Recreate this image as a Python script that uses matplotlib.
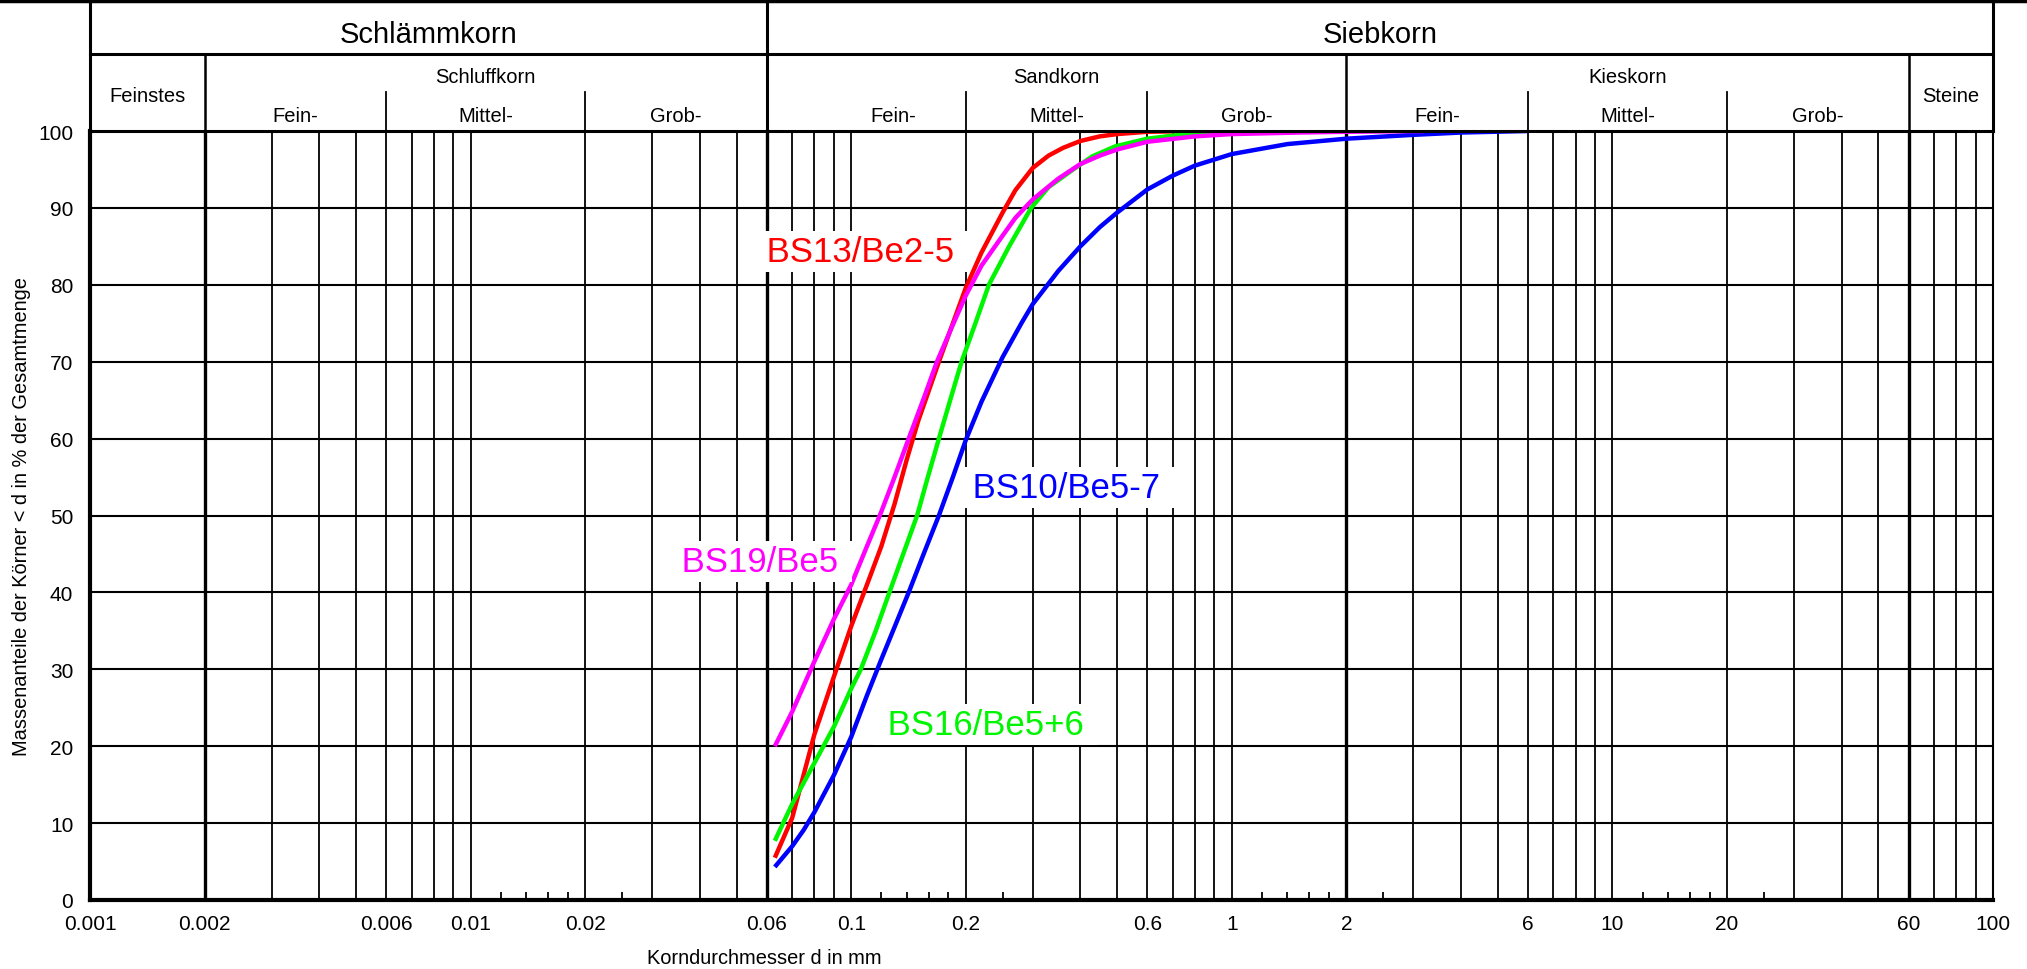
import matplotlib
matplotlib.use('Agg')
import matplotlib.pyplot as plt
from matplotlib.lines import Line2D
from matplotlib.ticker import NullFormatter

plt.rcParams['font.family'] = ['Liberation Sans', 'DejaVu Sans']

# ---------------- data (grain size d in mm, passing in %) ----------------
bs13_d = [0.063, 0.07, 0.08, 0.09, 0.1, 0.11, 0.12, 0.13, 0.14, 0.15, 0.17, 0.185, 0.2, 0.22, 0.25,
          0.27, 0.3, 0.33, 0.36, 0.4, 0.45, 0.5, 0.6, 0.8, 2.0]
bs13_p = [5.5, 10.7, 21.5, 29, 35.6, 41, 46, 51.5, 57.3, 62.3, 70, 75, 79.6, 84.2, 89.4,
          92.3, 95.2, 96.8, 97.8, 98.7, 99.3, 99.6, 99.9, 100, 100]

bs19_d = [0.063, 0.07, 0.08, 0.09, 0.1, 0.11, 0.12, 0.13, 0.1416, 0.155, 0.168, 0.185, 0.2, 0.22, 0.25,
          0.27, 0.3, 0.35, 0.4, 0.45, 0.5, 0.6, 0.8, 1.0, 1.5, 2.0, 3.2]
bs19_p = [20, 24.5, 31, 36.5, 41, 46, 50.5, 55, 60, 65.2, 70, 74.8, 78.6, 82.5, 86.4,
          88.7, 91.1, 93.8, 95.7, 96.8, 97.6, 98.6, 99.3, 99.6, 99.8, 99.9, 100]

bs16_d = [0.063, 0.07, 0.08, 0.09, 0.1, 0.106, 0.116, 0.126, 0.137, 0.149, 0.159, 0.17, 0.182, 0.195, 0.212,
          0.23, 0.26, 0.297, 0.33, 0.383, 0.43, 0.494, 0.6, 0.73, 1.0, 1.2, 2.0]
bs16_p = [7.7, 12.5, 17.8, 22.5, 27.5, 30, 35, 40, 45, 50, 55, 60, 65, 70, 75,
          80, 85, 90, 92.7, 95, 96.7, 98, 99, 99.5, 99.8, 100, 100]

bs10_d = [0.063, 0.07, 0.075, 0.08, 0.09, 0.1, 0.11, 0.12, 0.13, 0.1416, 0.155, 0.17, 0.185, 0.2, 0.22, 0.25,
          0.28, 0.3, 0.35, 0.4, 0.45, 0.5, 0.6, 0.7, 0.8, 1.0, 1.4, 2.0, 3.0, 4.0, 6.0]
bs10_p = [4.3, 7.0, 9.1, 11.4, 16.2, 21.2, 26.6, 31.3, 35.5, 40, 45, 50, 55, 59.8, 64.8, 70.6,
          75, 77.5, 81.8, 85, 87.5, 89.4, 92.4, 94.2, 95.5, 97, 98.3, 99, 99.5, 99.8, 100]

series_names = ['BS13/Be2-5', 'BS19/Be5', 'BS16/Be5+6', 'BS10/Be5-7']
series_colors = ['#ff0000', '#ff00ff', '#00f500', '#0000ff']

x_tick_vals = [0.001, 0.002, 0.006, 0.01, 0.02, 0.06, 0.1, 0.2, 0.6, 1, 2, 6, 10, 20, 60, 100]
x_tick_labels = ['0.001', '0.002', '0.006', '0.01', '0.02', '0.06', '0.1', '0.2', '0.6', '1', '2', '6', '10', '20', '60', '100']
y_tick_vals = list(range(0, 101, 10))

# ---------------- figure layout ----------------
W, H = 2027, 970
fig = plt.figure(figsize=(W / 100, H / 100), dpi=100)
px0, px1 = 90, 1993      # left / right pixel of the plot
py_bot, py_top = 901, 132  # y pixel of 0 % and 100 %
ax = fig.add_axes([px0 / W, (H - py_bot) / H, (px1 - px0) / W, (py_bot - py_top) / H])
ax.set_xscale('log')
ax.set_xlim(0.001, 100)
ax.set_ylim(0, 100)

# grid lines (scale of the sieve chart)
full_lines = [m * 10.0 ** e for e in (-3, -2, -1, 0, 1) for m in range(1, 10)]
full_lines = [v for v in full_lines if 0.0015 < v < 99]
bounds = [0.002, 0.06, 2, 60]
for v in full_lines:
    thick = any(abs(v - b) / b < 1e-6 for b in bounds)
    ax.axvline(v, color='black', lw=2.4 if thick else 1.3, zorder=1)
for p in range(10, 100, 10):
    ax.axhline(p, color='black', lw=1.5, zorder=1)

short_ticks = [m * 10.0 ** e for e in (-2, -1, 0, 1) for m in (1.2, 1.4, 1.6, 1.8, 2.5)]

for s in ['left', 'bottom']:
    ax.spines[s].set_linewidth(3)
ax.spines['top'].set_linewidth(2.2)
ax.spines['right'].set_linewidth(1.5)

ax.set_xticks(x_tick_vals, labels=x_tick_labels)
ax.set_xticks(short_ticks, minor=True)
ax.xaxis.set_minor_formatter(NullFormatter())
ax.tick_params(axis='x', which='major', length=0, pad=10, labelsize=15)
ax.tick_params(axis='x', which='minor', direction='in', length=6, width=1.3)
ax.set_yticks(y_tick_vals)
ax.tick_params(axis='y', length=0, pad=12, labelsize=15)

ax.set_xlabel('Korndurchmesser d in mm', fontsize=14.4)
ax.xaxis.set_label_coords((764 - px0) / (px1 - px0), -(959 - py_bot) / (py_bot - py_top))
ax.xaxis.label.set_va('center')
ax.set_ylabel('Massenanteile der Körner < d in % der Gesamtmenge', fontsize=14.4)
ax.yaxis.set_label_coords(-(px0 - 22) / (px1 - px0), 0.5)
ax.yaxis.label.set_va('center')

# curves
all_d = [bs13_d, bs19_d, bs16_d, bs10_d]
all_p = [bs13_p, bs19_p, bs16_p, bs10_p]
draw_order = [3, 0, 2, 1]  # blue, red, green, magenta on top
for i in draw_order:
    ax.plot(all_d[i], all_p[i], color=series_colors[i], lw=3.2, zorder=2,
            solid_capstyle='butt', solid_joinstyle='round')

# curve labels
label_pos = [(0.106, 83.1), (0.0577, 42.8), (0.225, 21.6), (0.368, 52.4)]
for name, c, (lx, ly) in zip(series_names, series_colors, label_pos):
    ax.text(lx, ly, ' ' + name + ' ', color=c, fontsize=25, ha='center', va='baseline', zorder=3,
            bbox=dict(boxstyle='square,pad=0.12', facecolor='white', edgecolor='none'))

# ---------------- header (soil classes) ----------------
hy_top = 3
hax = fig.add_axes([px0 / W, (H - py_top) / H, (px1 - px0) / W, (py_top - hy_top) / H])
hax.set_xscale('log')
hax.set_xlim(0.001, 100)
hax.set_ylim(0, 1)
hax.axis('off')

hh = py_top - hy_top
def hy(pix):
    return (py_top - pix) / hh

split1 = hy(55)
split2 = hy(93)
hax.plot([0.001, 100], [split1, split1], color='black', lw=2.2, clip_on=False)
for v in [0.001, 0.06, 100]:
    hax.plot([v, v], [0, 1], color='black', lw=2.2, clip_on=False)
for v in [0.002, 2, 60]:
    hax.plot([v, v], [0, split1], color='black', lw=1.8, clip_on=False)
for v in [0.006, 0.02, 0.2, 0.6, 6, 20]:
    hax.plot([v, v], [0, split2], color='black', lw=1.3, clip_on=False)

big = [('Schlämmkorn', (0.001 * 0.06) ** 0.5), ('Siebkorn', (0.06 * 100) ** 0.5)]
for t, x in big:
    hax.text(x, hy(43), t, fontsize=21, ha='center', va='baseline')

mid = [('Schluffkorn', (0.002 * 0.06) ** 0.5), ('Sandkorn', (0.06 * 2) ** 0.5), ('Kieskorn', (2 * 60) ** 0.5)]
for t, x in mid:
    hax.text(x, hy(83), t, fontsize=14.5, ha='center', va='baseline')

side = [('Feinstes', (0.001 * 0.002) ** 0.5), ('Steine', (60 * 100) ** 0.5)]
for t, x in side:
    hax.text(x, hy(102), t, fontsize=14.5, ha='center', va='baseline')

sub = [('Fein-', (0.002 * 0.006) ** 0.5), ('Mittel-', (0.006 * 0.02) ** 0.5), ('Grob-', (0.02 * 0.06) ** 0.5),
       ('Fein-', 0.129), ('Mittel-', (0.2 * 0.6) ** 0.5), ('Grob-', (0.6 * 2) ** 0.5),
       ('Fein-', (2 * 6) ** 0.5), ('Mittel-', (6 * 20) ** 0.5), ('Grob-', (20 * 60) ** 0.5)]
for t, x in sub:
    hax.text(x, hy(122), t, fontsize=14.5, ha='center', va='baseline')

# top strip remnants of the form
fig.add_artist(Line2D([0, 1], [(H - 2) / H, (H - 2) / H], color='black', lw=2.5))
for xpix in [625, 1440]:
    fig.add_artist(Line2D([xpix / W, xpix / W], [(H - 3) / H, 1], color='black', lw=1.3))

fig.savefig('out.png', dpi=100)
